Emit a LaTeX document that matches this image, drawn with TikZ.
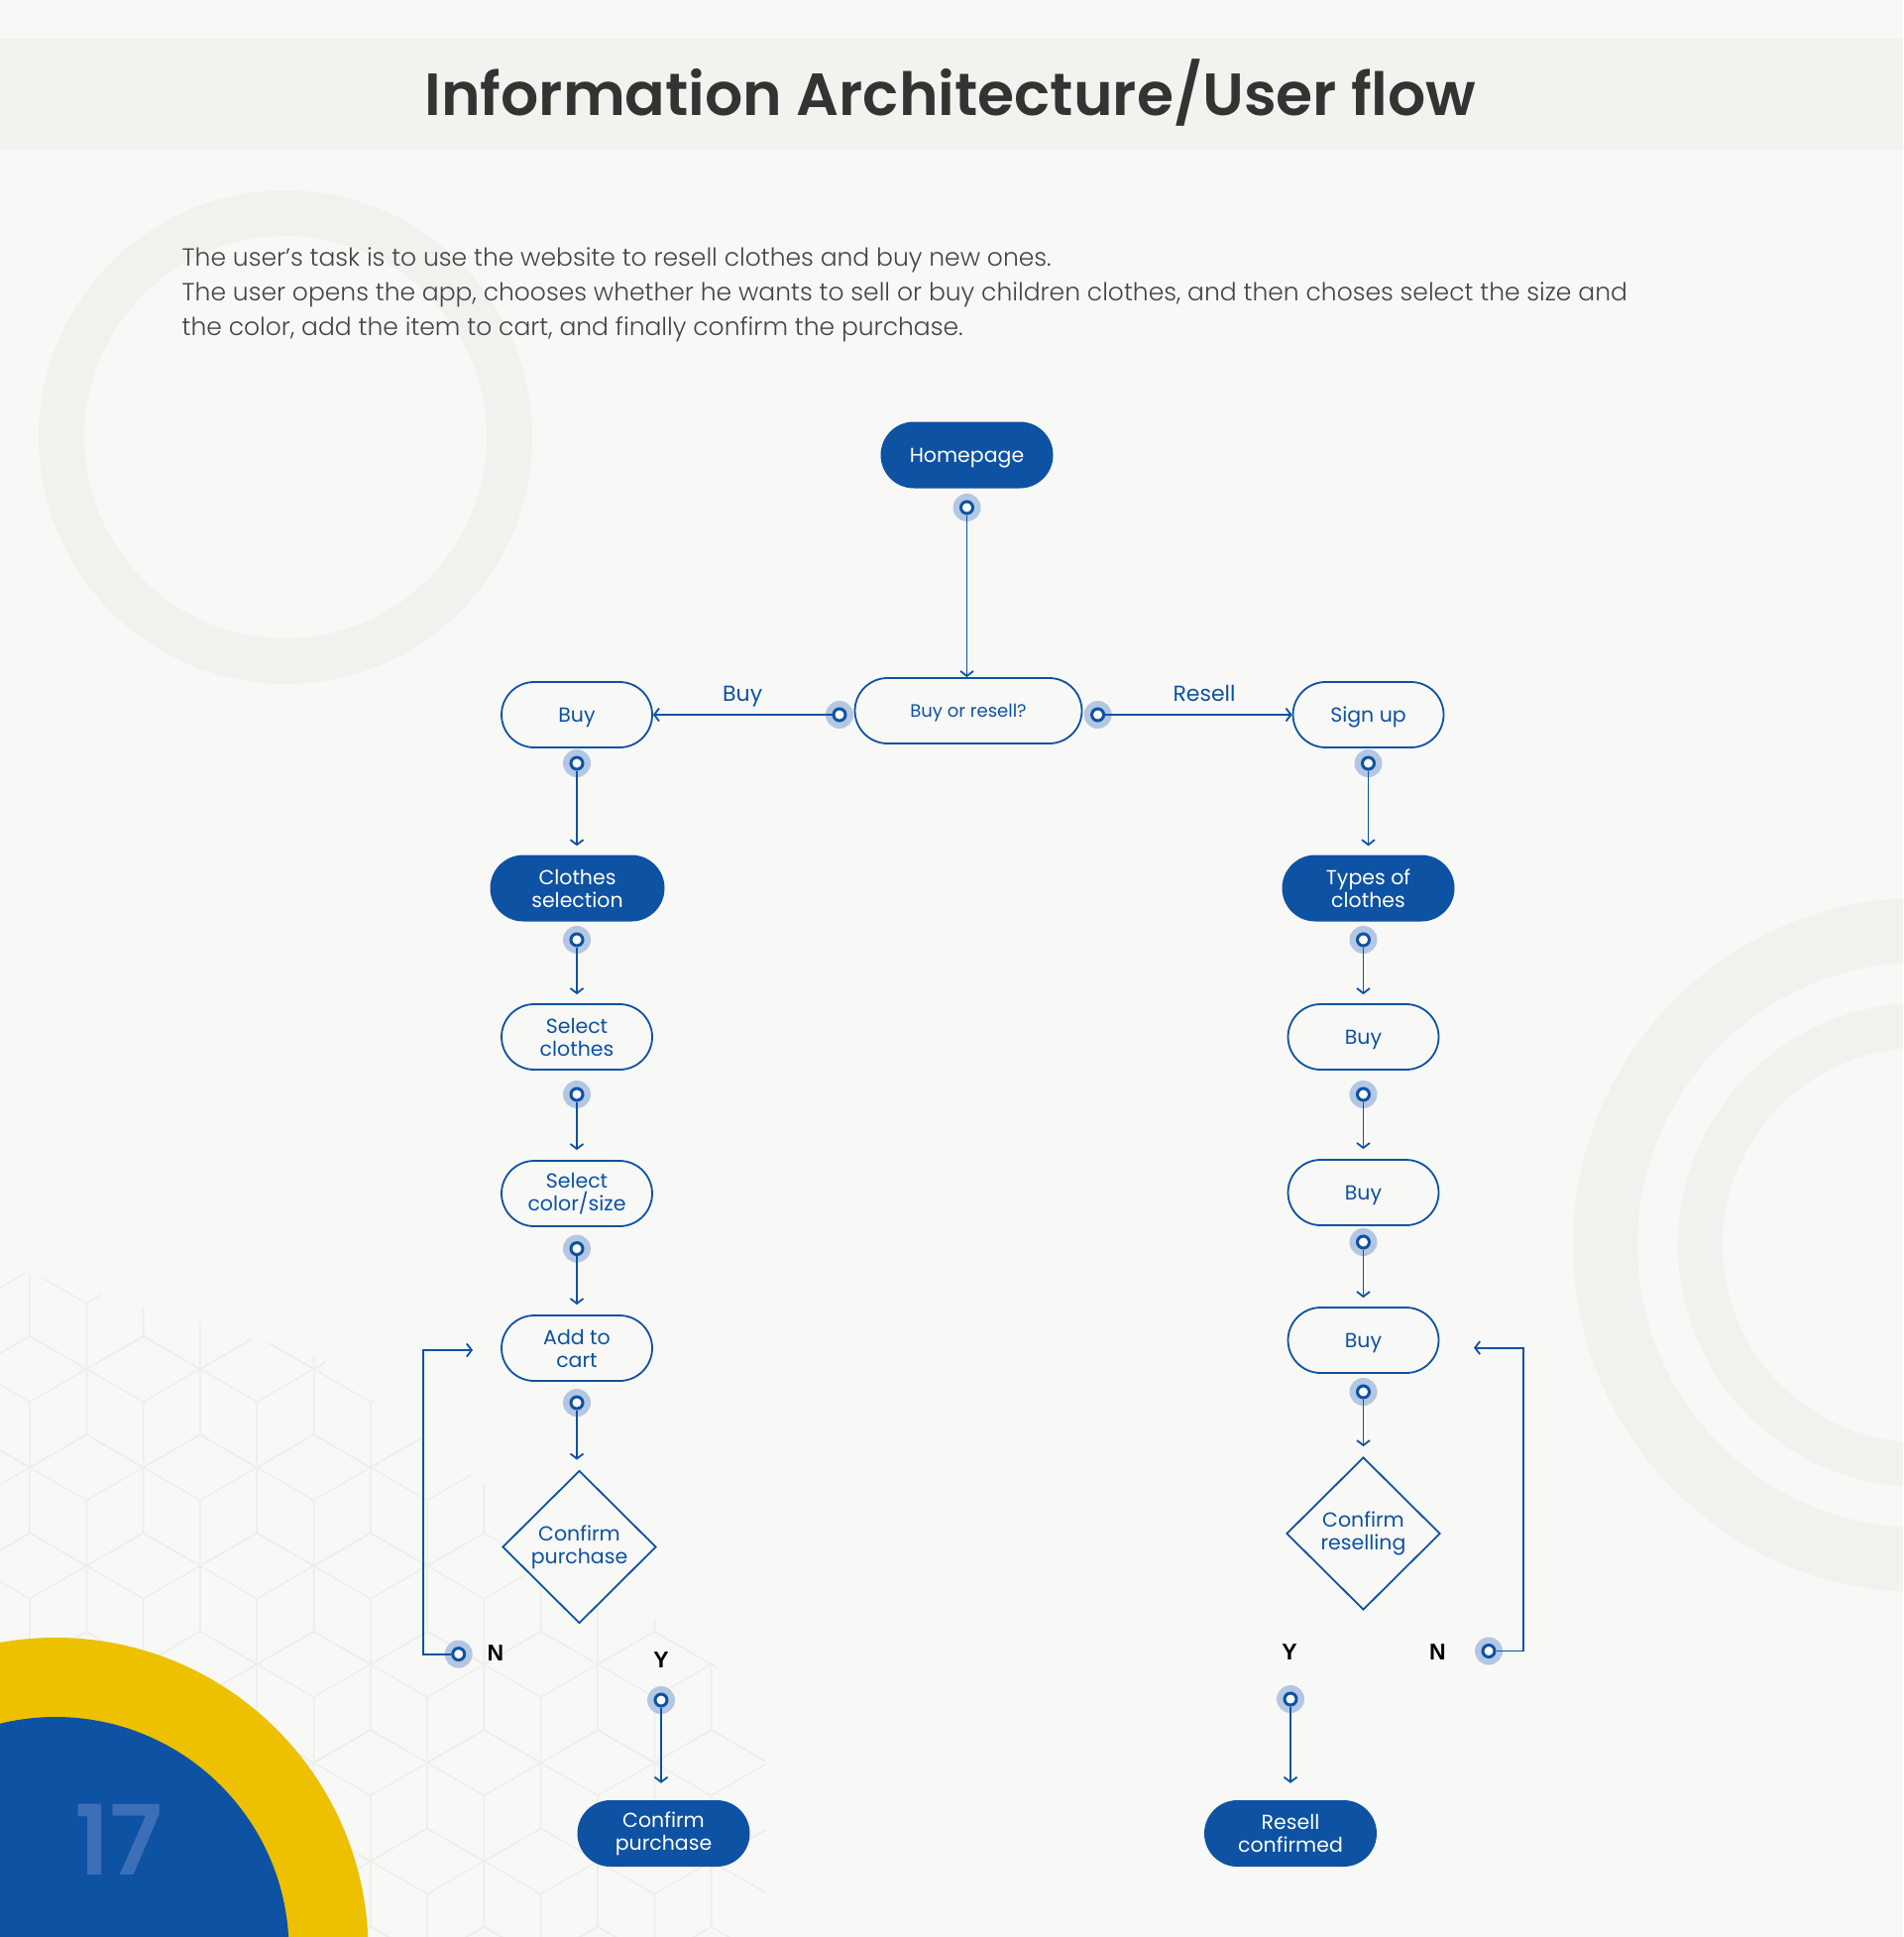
\documentclass[tikz,border=0pt]{standalone}
\usepackage{fontspec}
\setmainfont{Poppins}
\newfontfamily\popsemi{Poppins SemiBold}
\newfontfamily\poplight{Poppins Light}
\newfontfamily\arialb{Liberation Sans}
\usetikzlibrary{shapes.geometric,arrows.meta}
\definecolor{bg}{HTML}{F8F8F6}
\definecolor{band}{HTML}{F2F2EE}
\definecolor{ringc}{HTML}{F1F1ED}
\definecolor{hexc}{HTML}{EEEEEB}
\definecolor{fc}{HTML}{0D52A3}
\definecolor{haloc}{HTML}{B4C7E2}
\definecolor{yel}{HTML}{EDC000}
\definecolor{numc}{HTML}{3D6FB6}
\definecolor{titc}{HTML}{333333}
\definecolor{parc}{HTML}{444444}
\tikzset{
  nodefont/.style={font=\fontsize{20.5}{23}\selectfont},
  one/.style={text height=14.3pt, text depth=0pt},
  po/.style={draw=fc, line width=1.8pt, fill=bg, text=fc, rounded corners=33pt,
    minimum width=152pt, minimum height=66pt, inner sep=0pt, align=center, nodefont},
  pf/.style={fill=fc, text=white, rounded corners=33.5pt,
    minimum width=174pt, minimum height=67pt, inner sep=0pt, align=center, nodefont},
  dm/.style={diamond, draw=fc, line width=1.8pt, fill=bg, text=fc,
    minimum width=155pt, minimum height=154pt, inner sep=0pt, align=center, nodefont},
  halo/.style={circle, fill=haloc, minimum size=28pt, inner sep=0pt},
  ringn/.style={circle, draw=fc, line width=3pt, fill=white, minimum size=12pt, inner sep=0pt},
  arr/.style={draw=fc, line width=1.8pt, -{Straight Barb[length=5pt,width=13pt]}},
  elab/.style={text=fc, font=\fontsize{22}{24}\selectfont, text height=15.4pt, text depth=0pt, inner sep=0pt},
  yn/.style={text=black, font=\arialb\bfseries\fontsize{23}{25}\selectfont},
  hexl/.style={draw=hexc, line width=1.5pt},
  para/.style={text=parc, font=\poplight\fontsize{25}{35}\selectfont, anchor=base west, inner sep=0pt}
}
\newcommand\hub[2]{\node[halo] at (#2) {}; \node[ringn] (#1) at (#2) {};}
\begin{document}
\begin{tikzpicture}[x=1pt,y=-1pt]
\useasboundingbox (0,0) rectangle (1920,1954);
\clip (0,0) rectangle (1920,1954);
\fill[bg] (0,0) rectangle (1920,1954);
\fill[band] (0,38.6) rectangle (1920,150.8);
% decorative rings
\fill[ringc, even odd rule] (288,441) circle[radius=249pt] (288,441) circle[radius=203pt];
\fill[ringc, even odd rule] (1937,1256) circle[radius=350pt] (1937,1256) circle[radius=285pt];
\fill[ringc, even odd rule] (1937,1256) circle[radius=244pt] (1937,1256) circle[radius=199pt];
% hex pattern
\begin{scope}
\clip (0,1277) -- (324,1370) -- (772,1720) -- (772,1954) -- (0,1954) -- cycle;
\foreach \j in {0,...,7} {
  \foreach \i in {-1,...,7} {
    \pgfmathsetmacro\cx{87.3+\i*114.6+mod(\j,2)*57.3}
    \pgfmathsetmacro\cy{1314.8+\j*99.3}
    \draw[hexl] (\cx,\cy-66.2) -- (\cx+57.3,\cy-33.1) -- (\cx+57.3,\cy+33.1) -- (\cx,\cy+66.2) -- (\cx-57.3,\cy+33.1) -- (\cx-57.3,\cy-33.1) -- cycle;
    \draw[hexl] (\cx-57.3,\cy-33.1) -- (\cx,\cy) -- (\cx+57.3,\cy-33.1) (\cx,\cy) -- (\cx,\cy+66.2);
  }
}
\end{scope}
% bottom-left discs
\fill[yel] (56,1967.5) circle[radius=315.5pt];
\fill[fc] (56,1967.5) circle[radius=235.5pt];
\node[text=numc, font=\popsemi\fontsize{98}{100}\selectfont, inner sep=0pt] (pg) at (120,1856) {17};
% title and text
\node[text=titc, font=\popsemi\fontsize{60}{64}\selectfont, anchor=base, inner sep=0pt] (title) at (959,116.7) {Information Architecture/User flow};
\node[para] (p1) at (183.5,268.5) {The user’s task is to use the website to resell clothes and buy new ones.};
\node[para] (p2) at (183.5,303.5) {The user opens the app, chooses whether he wants to sell or buy children clothes, and then choses select the size and};
\node[para] (p3) at (183.5,338.5) {the color, add the item to cart, and finally confirm the purchase.};
% flow nodes
\node[pf, one] (home) at (975.5,459) {Homepage};
\node[po, minimum width=229pt, font=\fontsize{18}{20}\selectfont, text height=12.6pt, text depth=0pt] (bor) at (977,717) {Buy or resell?};
\node[po, one] (buyl) at (582,721) {Buy};
\node[po, one] (sign) at (1380.5,721) {Sign up};
\node[pf, minimum width=176pt] (clsel) at (582.5,896) {Clothes\\selection};
\node[pf] (types) at (1380.5,896) {Types of\\clothes};
\node[po] (selcl) at (582,1046) {Select\\clothes};
\node[po, one] (buy1) at (1375.5,1046) {Buy};
\node[po] (selcs) at (582,1204) {Select\\color/size};
\node[po, one] (buy2) at (1375.5,1203) {Buy};
\node[po] (cart) at (582,1360) {Add to\\cart};
\node[po, one] (buy3) at (1375.5,1352) {Buy};
\node[dm] (cp) at (584.5,1560.5) {Confirm\\purchase};
\node[dm] (cr) at (1375.5,1547) {Confirm\\reselling};
\node[pf] (cpf) at (669.5,1849.5) {Confirm\\purchase};
\node[pf] (rcf) at (1302,1849.5) {Resell\\confirmed};
% hubs
\hub{h0}{975.5,512}
\hub{hL}{847,721}
\hub{hR}{1107.6,721}
\hub{hb}{582,770}
\hub{hs}{1380.5,770}
\hub{hc}{582,948}
\hub{ht}{1375.5,948}
\hub{hsc}{582,1104}
\hub{hb1}{1375.5,1104}
\hub{hcs}{582,1259.6}
\hub{hb2}{1375.5,1253}
\hub{hct}{582,1415}
\hub{hb3}{1375.5,1404}
\hub{hNl}{462.7,1668.6}
\hub{hYl}{667,1715}
\hub{hYr}{1302,1714}
\hub{hNr}{1502,1665.5}
% connectors
\draw[arr] (h0) -- (h0 |- bor.north);
\draw[arr] (hL) -- node[elab, yshift=21pt] (lbuy) {Buy} (buyl.east);
\draw[arr] (hR) -- node[elab, yshift=21pt, pos=0.53] (lres) {Resell} (sign.west);
\draw[arr, shorten >=9pt] (hb) -- (hb |- clsel.north);
\draw[arr, shorten >=9pt] (hs) -- (types.north);
\draw[arr, shorten >=9pt] (hc) -- (hc |- selcl.north);
\draw[arr, shorten >=9pt] (ht) -- (buy1.north);
\draw[arr, shorten >=10pt] (hsc) -- (selcs.north);
\draw[arr, shorten >=10pt] (hb1) -- (buy2.north);
\draw[arr, shorten >=10pt] (hcs) -- (cart.north);
\draw[arr, shorten >=9pt] (hb2) -- (buy3.north);
\draw[arr, shorten >=10pt] (hct) -- (hct |- cp.north);
\draw[arr, shorten >=10pt] (hb3) -- (cr.north);
\draw[arr, shorten >=17pt] (hYl) -- (hYl |- cpf.north);
\draw[arr, shorten >=17pt] (hYr) -- (rcf.north);
\coordinate (la) at (477,1362);
\coordinate (ra) at (1487,1359.6);
\draw[arr] (hNl.west) -- ++(-27.9,0) |- (la);
\draw[arr] (hNr.east) -- ++(27.5,0) |- (ra);
% Y/N labels
\node[yn] (nl) at (500,1668) {N};
\node[yn] (yl) at (667,1675) {Y};
\node[yn] (yr) at (1301,1667) {Y};
\node[yn] (nr) at (1450.5,1667) {N};
\end{tikzpicture}
\end{document}
